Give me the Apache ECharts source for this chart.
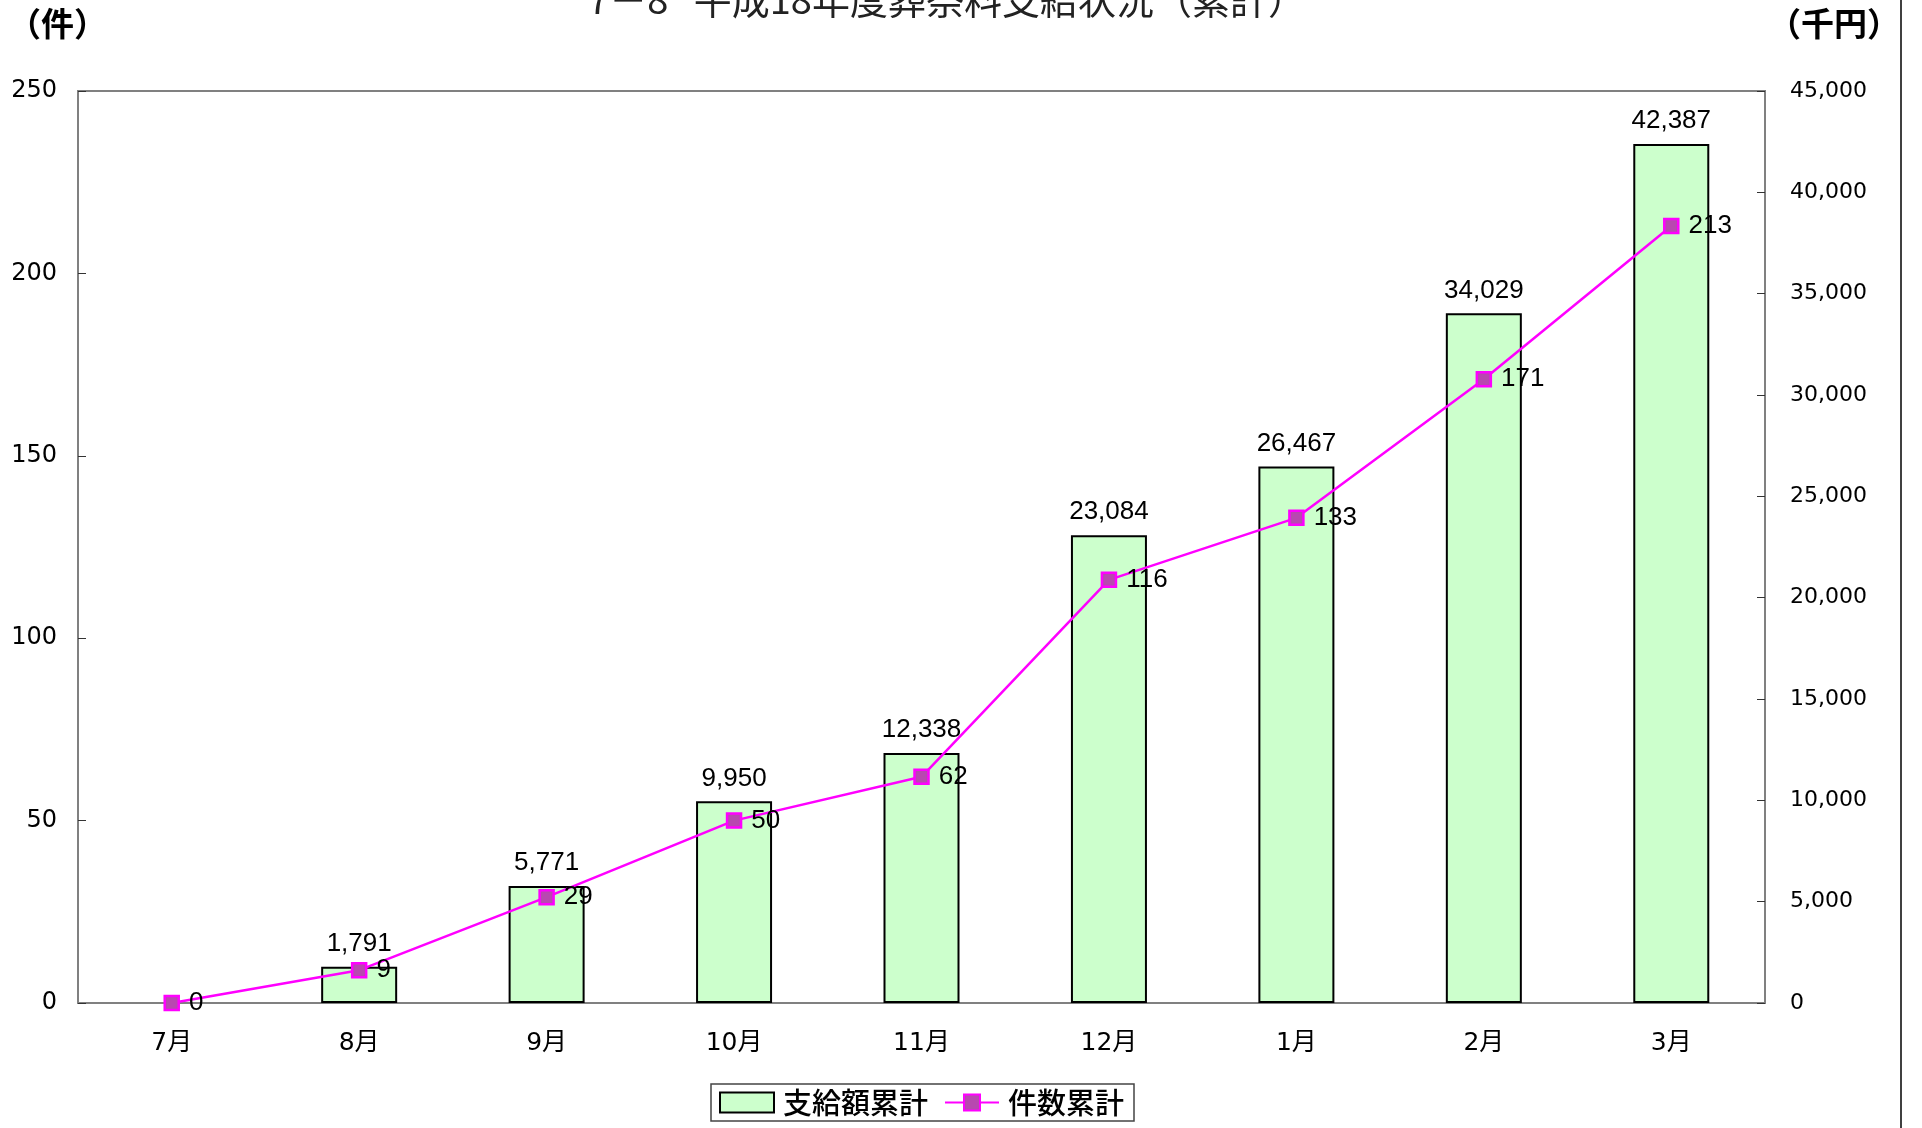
<!DOCTYPE html>
<html lang="ja">
	<head>
		<meta charset="utf-8">
		<title>7－8 平成18年度葬祭料支給状況（累計）</title>
		<script src="https://cdn.jsdelivr.net/npm/echarts@6/dist/echarts.min.js"></script>
		<style>
			html,body{
				margin: 0;
				padding: 0;
				background-color: white;
			}
			#chart{
				width: 1922px;
				height: 1128px;
			}
		</style>
	</head>
	<body>
		<div id="chart"></div>
	</body>
	<script>
		// 月
		var months=["7月","8月","9月","10月","11月","12月","1月","2月","3月"];
		// 支給額累計（千円）
		var amountTotal=[0,1791,5771,9950,12338,23084,26467,34029,42387];
		// 件数累計（件）
		var countTotal=[0,9,29,50,62,116,133,171,213];

		var numFont="'DejaVu Sans', 'Noto Sans CJK JP', sans-serif";
		var jpFont="'Noto Sans CJK JP', sans-serif";
		var labelFont="'Liberation Sans', Arial, sans-serif";

		// 0の棒は枠線を描かない
		var barData=amountTotal.map(function(v){
			return v===0?{value:v,itemStyle:{borderWidth:0}}:v;
		});

		var myChart=echarts.init(document.getElementById("chart"),null,{renderer:"canvas"});

		var option={
			backgroundColor:"#ffffff",
			animation:false,
			title:{
				text:"7－8   平成18年度葬祭料支給状況（累計）",
				left:942,
				textAlign:"center",
				top:-24,
				textStyle:{
					fontFamily:jpFont,
					fontWeight:"normal",
					fontSize:38,
					color:"#222"
				}
			},
			graphic:[
				{type:"text",left:8,top:7,style:{text:"（件）",fontFamily:jpFont,fontSize:33,fontWeight:"bold",fill:"#000"}},
				{type:"text",right:22,top:7,style:{text:"（千円）",fontFamily:jpFont,fontSize:33,fontWeight:"bold",fill:"#000"}},
				{type:"line",shape:{x1:1901,y1:0,x2:1901,y2:1128},style:{stroke:"#000",lineWidth:1.5}}
			],
			legend:{
				top:1084,
				left:711,
				backgroundColor:"#ffffff",
				borderColor:"#444",
				borderWidth:1.5,
				padding:[4,10,4,8],
				itemGap:16,
				itemWidth:54,
				itemHeight:20,
				textStyle:{fontFamily:jpFont,fontSize:29,fontWeight:500,color:"#000",padding:[0,0,0,4]},
				data:[{name:"支給額累計",icon:"rect"},"件数累計"]
			},
			grid:{
				left:78,
				right:157,
				top:91,
				bottom:125,
				show:true,
				borderColor:"#808080",
				borderWidth:2
			},
			xAxis:[{
				type:"category",
				data:months,
				boundaryGap:true,
				axisLine:{lineStyle:{color:"#808080",width:2}},
				axisTick:{inside:true,length:8,lineStyle:{color:"#333",width:1}},
				axisLabel:{margin:28,fontFamily:numFont,fontSize:25,color:"#000"},
				splitLine:{show:false}
			}],
			yAxis:[
				{
					type:"value",
					min:0,
					max:250,
					interval:50,
					position:"left",
					axisLine:{show:true,lineStyle:{color:"#808080",width:2}},
					axisTick:{show:true,inside:true,length:8,lineStyle:{color:"#333",width:1}},
					axisLabel:{margin:21,fontFamily:numFont,fontSize:24,color:"#000"},
					splitLine:{show:false}
				},
				{
					type:"value",
					min:0,
					max:45000,
					interval:5000,
					position:"right",
					axisLine:{show:true,lineStyle:{color:"#808080",width:2}},
					axisTick:{show:true,inside:true,length:8,lineStyle:{color:"#333",width:1}},
					axisLabel:{
						margin:25,
						fontFamily:numFont,
						fontSize:22,
						color:"#000",
						formatter:function(v){return v.toLocaleString("en-US");}
					},
					splitLine:{show:false}
				}
			],
			series:[
				{
					name:"支給額累計",
					type:"bar",
					yAxisIndex:1,
					data:barData,
					barWidth:76,
					itemStyle:{color:"#ccffcc",borderColor:"#000",borderWidth:2},
					label:{
						show:true,
						position:"top",
						distance:10,
						fontFamily:labelFont,
						fontSize:26,
						color:"#000",
						formatter:function(p){return p.value?p.value.toLocaleString("en-US"):"";}
					},
					z:2
				},
				{
					name:"件数累計",
					type:"line",
					yAxisIndex:0,
					data:countTotal,
					symbol:"rect",
					symbolSize:14,
					lineStyle:{color:"#ff00ff",width:2.5},
					itemStyle:{color:"#b848b0",borderColor:"#ff00ff",borderWidth:2.5},
					label:{
						show:true,
						position:"right",
						distance:9,
						fontFamily:labelFont,
						fontSize:26,
						color:"#000"
					},
					z:5
				}
			]
		};

		myChart.setOption(option);
	</script>
</html>
